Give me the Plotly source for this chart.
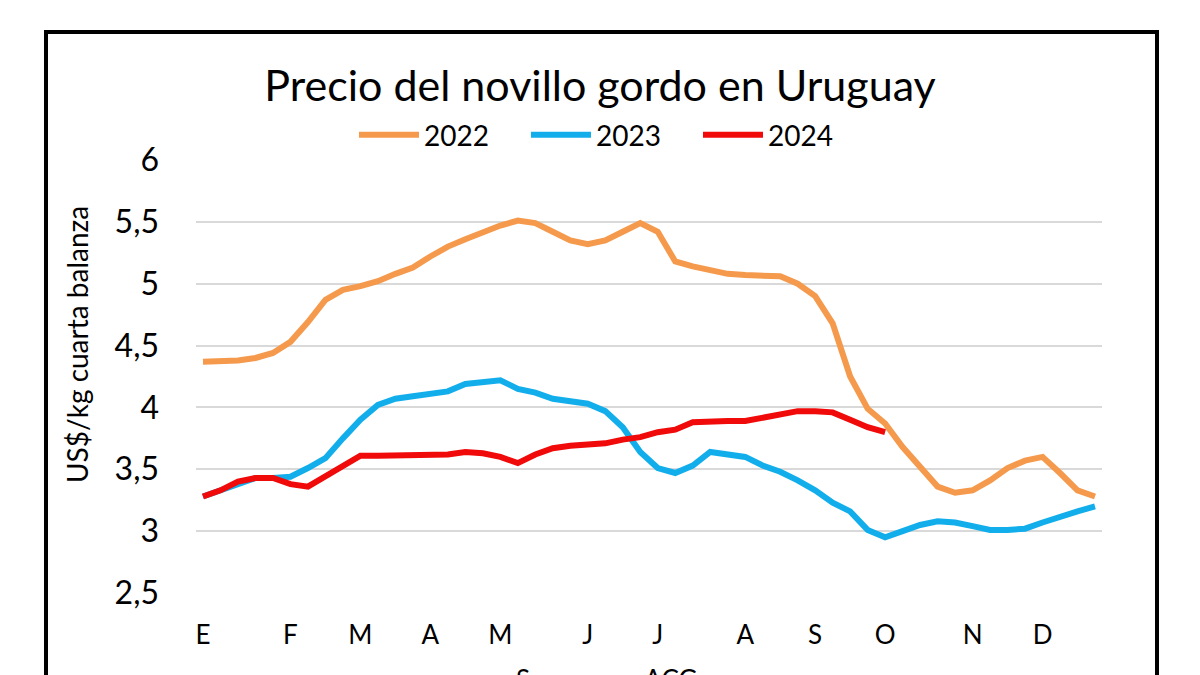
import plotly.graph_objects as go

weeks = list(range(52))
month_ticks = [0, 5, 9, 13, 17, 22, 26, 31, 35, 39, 44, 48]
month_labels = ["E", "F", "M", "A", "M", "J", "J", "A", "S", "O", "N", "D"]

y_ticks = [2.5, 3, 3.5, 4, 4.5, 5, 5.5, 6]
y_labels = ["2,5", "3", "3,5", "4", "4,5", "5", "5,5", "6"]

p2022 = [4.37, 4.37, 4.38, 4.40, 4.44, 4.53, 4.69, 4.87, 4.95, 4.98,
         5.02, 5.08, 5.13, 5.22, 5.30, 5.36, 5.42, 5.47, 5.51, 5.49,
         5.42, 5.35, 5.32, 5.35, 5.42, 5.49, 5.42, 5.18, 5.14, 5.11,
         5.08, 5.07, 5.07, 5.06, 5.00, 4.90, 4.68, 4.25, 3.99, 3.87,
         3.68, 3.52, 3.36, 3.31, 3.33, 3.41, 3.51, 3.57, 3.60, 3.47,
         3.33, 3.28]

p2023 = [3.28, 3.33, 3.39, 3.43, 3.43, 3.44, 3.51, 3.59, 3.75, 3.90,
         4.02, 4.07, 4.09, 4.11, 4.13, 4.19, 4.21, 4.22, 4.15, 4.12,
         4.07, 4.05, 4.03, 3.97, 3.84, 3.64, 3.51, 3.47, 3.53, 3.64,
         3.62, 3.60, 3.53, 3.48, 3.41, 3.33, 3.23, 3.16, 3.01, 2.95,
         3.00, 3.05, 3.08, 3.07, 3.04, 3.01, 3.01, 3.02, 3.07, 3.12,
         3.16, 3.20]

p2024 = [3.28, 3.33, 3.40, 3.43, 3.43, 3.38, 3.36, 3.44, 3.52, 3.61,
         3.61, 3.61, 3.61, 3.62, 3.62, 3.64, 3.63, 3.60, 3.55, 3.62,
         3.67, 3.69, 3.70, 3.71, 3.74, 3.76, 3.80, 3.82, 3.88, 3.89,
         3.89, 3.89, 3.92, 3.95, 3.97, 3.97, 3.96, 3.90, 3.84, 3.80]

FONT = "Lato"
OFF = 8  # page body margin in the browser

fig = go.Figure()
fig.add_trace(go.Scatter(x=weeks, y=p2022, mode="lines", name="2022",
                         line=dict(color="#F59A4C", width=6)))
fig.add_trace(go.Scatter(x=weeks, y=p2023, mode="lines", name="2023",
                         line=dict(color="#12AEEB", width=6)))
fig.add_trace(go.Scatter(x=weeks[:len(p2024)], y=p2024, mode="lines", name="2024",
                         line=dict(color="#F00A0A", width=6)))

# target screen pixels of the plot area
PL, PR, PT, PB = 196, 1102, 160, 593
L, T = PL - OFF, PT - OFF
R, B = 1200 - (PR - OFF), 675 - (PB - OFF)
PW, PH = PR - PL, PB - PT

def px(xp):
    return (xp - PL) / PW

def py(yp):
    return (PB - yp) / PH

fig.update_layout(
    width=1200, height=675,
    margin=dict(l=L, r=R, t=T, b=B),
    paper_bgcolor="white", plot_bgcolor="white",
    font=dict(family=FONT, color="black"),
    title=dict(text="Precio del novillo gordo en Uruguay", x=(600 - OFF) / 1200, xanchor="center",
               y=1 - (86 - OFF) / 675, yanchor="middle",
               font=dict(family=FONT, size=43, color="black")),
    showlegend=True,
    legend=dict(orientation="h", x=px(612), xanchor="center", y=py(135), yanchor="middle",
                font=dict(family=FONT, size=28, color="black"), bgcolor="rgba(0,0,0,0)",
                itemwidth=60, entrywidth=97, entrywidthmode="pixels"),
    xaxis=dict(range=[-0.4, 51.4], tickmode="array", tickvals=month_ticks,
               ticktext=month_labels, showgrid=False, zeroline=False, showline=False,
               ticks="", tickfont=dict(family=FONT, size=26, color="black"),
               ticklabelstandoff=24),
    yaxis=dict(range=[2.5, 6], tickmode="array", tickvals=y_ticks, ticktext=y_labels,
               showgrid=True, gridcolor="#D9D9D9", gridwidth=2, zeroline=False,
               showline=False, ticks="", tickfont=dict(family=FONT, size=32, color="black"),
               ticklabelstandoff=36),
)

fig.add_annotation(text="US$/kg cuarta balanza", xref="paper", yref="paper",
                   x=px(77), y=py(345), xanchor="center", yanchor="middle",
                   textangle=-90, showarrow=False,
                   font=dict(family=FONT, size=28, color="black"))

fig.add_annotation(text="Semanas – ACG", xref="paper", yref="paper",
                   x=px(606), y=py(679), xanchor="center", yanchor="middle",
                   showarrow=False, font=dict(family=FONT, size=26, color="black"))

fig.add_shape(type="rect", xref="paper", yref="paper",
              x0=px(46), x1=px(1157), y0=py(720), y1=py(32),
              line=dict(color="black", width=4), fillcolor="rgba(0,0,0,0)", layer="above")

fig.write_html("out.html")
